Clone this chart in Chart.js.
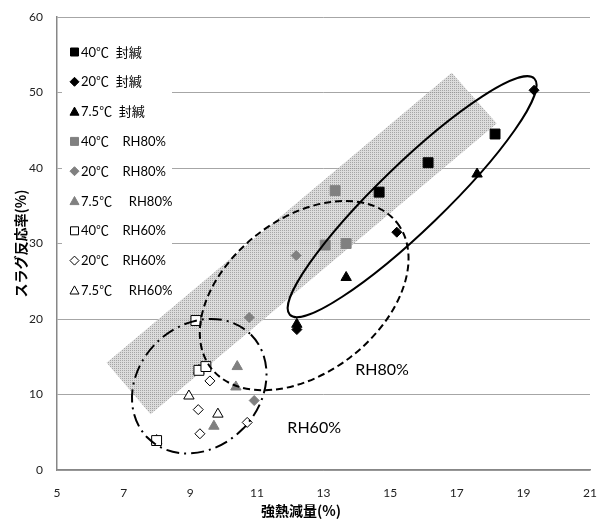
<!DOCTYPE html>
<html>
<head>
<meta charset="utf-8">
<script src="https://cdn.jsdelivr.net/npm/chart.js@4/dist/chart.umd.min.js"></script>
<style>
  html, body { margin: 0; padding: 0; background: #fff; }
  #wrap { width: 600px; height: 521px; }
</style>
</head>
<body>
<div id="wrap"><canvas id="myChart" width="600" height="521"></canvas></div>
<script>
// series labels (legend text)
const seriesLabels = [
    '40℃  封緘', '20℃  封緘', '7.5℃  封緘',
    '40℃    RH80%', '20℃    RH80%', '7.5℃     RH80%',
    '40℃    RH60%', '20℃    RH60%', '7.5℃     RH60%'
];

// 強熱減量(%) / スラグ反応率(%) for each series
const sealed40X = [14.67, 16.14, 18.15];
const sealed40Y = [36.8, 40.7, 44.5];
const sealed20X = [12.2, 15.2, 19.32];
const sealed20Y = [18.6, 31.5, 50.3];
const sealed75X = [12.2, 13.68, 17.61];
const sealed75Y = [19.3, 25.5, 39.2];
const rh80_40X = [13.05, 13.35, 13.68];
const rh80_40Y = [29.8, 37.0, 30.0];
const rh80_20X = [10.77, 10.92, 12.18];
const rh80_20Y = [20.2, 9.2, 28.4];
const rh80_75X = [9.71, 10.37, 10.41];
const rh80_75Y = [5.8, 11.0, 13.7];
const rh60_40X = [7.99, 9.17, 9.26, 9.47];
const rh60_40Y = [3.9, 19.8, 13.2, 13.7];
const rh60_20X = [9.24, 9.29, 9.59, 10.71];
const rh60_20Y = [8.0, 4.8, 11.8, 6.3];
const rh60_75X = [7.99, 8.96, 9.26, 9.83];
const rh60_75Y = [3.9, 9.8, 13.2, 7.4];

// shaded band corners (data units)
const bandX = [6.49, 7.81, 18.2, 16.85];
const bandY = [14.2, 7.4, 45.9, 52.6];

// area labels
const areaLabels = ['RH80%', 'RH60%'];
const areaLabelX = [14.76, 12.72];
const areaLabelY = [13.2, 5.6];

const FONT = 'Lato, "Noto Sans CJK JP", sans-serif';
const JP_FONT = '"Noto Sans CJK JP", sans-serif';

function toPoints(xs, ys) {
    return xs.map((x, i) => ({x, y: ys[i]}));
}

const seriesData = [
    toPoints(sealed40X, sealed40Y), toPoints(sealed20X, sealed20Y), toPoints(sealed75X, sealed75Y),
    toPoints(rh80_40X, rh80_40Y), toPoints(rh80_20X, rh80_20Y), toPoints(rh80_75X, rh80_75Y),
    toPoints(rh60_40X, rh60_40Y), toPoints(rh60_20X, rh60_20Y), toPoints(rh60_75X, rh60_75Y)
];

const shapes = ['rect', 'rectRot', 'triangle'];
const sizes = {rect: 7, rectRot: 5, triangle: 6};
const fills = ['#000000', '#808080', '#ffffff'];
const borders = ['#000000', '#808080', '#000000'];

const datasets = seriesData.map((data, i) => {
    const group = Math.floor(i / 3);
    const style = shapes[i % 3];
    return {
        label: seriesLabels[i],
        data,
        pointStyle: style,
        pointRadius: sizes[style],
        pointHoverRadius: sizes[style],
        backgroundColor: fills[group],
        borderColor: borders[group],
        borderWidth: 1,
        showLine: false
    };
});

// ellipses: center in data units, radii in px, rotation in degrees
const ellipses = [
    {cx: 15.66, cy: 36.2, rx: 170, ry: 33, rot: -44, dash: []},
    {cx: 12.42, cy: 23.1, rx: 118, ry: 77, rot: -38, dash: [7, 4]},
    {cx: 9.27, cy: 11.1, rx: 73, ry: 61, rot: -45, dash: [13, 5, 2, 5]}
];

function makePattern(ctx) {
    const pc = document.createElement('canvas');
    pc.width = 2; pc.height = 2;
    const p = pc.getContext('2d');
    p.fillStyle = '#d6d6d6';
    p.fillRect(0, 0, 2, 2);
    p.fillStyle = '#969696';
    p.fillRect(0, 0, 1, 1);
    return ctx.createPattern(pc, 'repeat');
}

const bandPlugin = {
    id: 'band',
    beforeDatasetsDraw(chart) {
        const {ctx, scales: {x, y}, chartArea} = chart;
        ctx.save();
        ctx.beginPath();
        ctx.rect(chartArea.left, chartArea.top, chartArea.right - chartArea.left, chartArea.bottom - chartArea.top);
        ctx.clip();
        ctx.globalAlpha = 0.85;
        ctx.fillStyle = makePattern(ctx);
        ctx.beginPath();
        bandX.forEach((bx, i) => {
            const px = x.getPixelForValue(bx);
            const py = y.getPixelForValue(bandY[i]);
            if (i === 0) ctx.moveTo(px, py); else ctx.lineTo(px, py);
        });
        ctx.closePath();
        ctx.fill();
        ctx.restore();
    }
};

function drawMarker(ctx, style, cx, cy, r, fill, stroke) {
    ctx.beginPath();
    if (style === 'rect') {
        ctx.rect(cx - r, cy - r, 2 * r, 2 * r);
    } else if (style === 'rectRot') {
        ctx.moveTo(cx - r, cy);
        ctx.lineTo(cx, cy - r);
        ctx.lineTo(cx + r, cy);
        ctx.lineTo(cx, cy + r);
        ctx.closePath();
    } else {
        ctx.moveTo(cx, cy - r);
        ctx.lineTo(cx + r, cy + r * 0.8);
        ctx.lineTo(cx - r, cy + r * 0.8);
        ctx.closePath();
    }
    ctx.fillStyle = fill;
    ctx.fill();
    ctx.strokeStyle = stroke;
    ctx.lineWidth = 1;
    ctx.stroke();
}

const overlayPlugin = {
    id: 'overlay',
    afterDatasetsDraw(chart) {
        const {ctx, scales: {x, y}} = chart;
        ctx.save();

        // ellipses
        ctx.strokeStyle = '#000';
        ctx.lineWidth = 2;
        for (const e of ellipses) {
            ctx.setLineDash(e.dash);
            ctx.beginPath();
            ctx.ellipse(x.getPixelForValue(e.cx), y.getPixelForValue(e.cy), e.rx, e.ry,
                e.rot * Math.PI / 180, 0, Math.PI * 2);
            ctx.stroke();
        }
        ctx.setLineDash([]);

        // area labels
        ctx.fillStyle = '#000';
        ctx.font = '16px ' + FONT;
        ctx.textAlign = 'center';
        ctx.textBaseline = 'middle';
        areaLabels.forEach((t, i) => {
            ctx.fillText(t, x.getPixelForValue(areaLabelX[i]), y.getPixelForValue(areaLabelY[i]));
        });

        // legend inside plot
        ctx.fillStyle = '#fff';
        ctx.fillRect(62, 30, 110, 274);
        ctx.font = '13px ' + FONT;
        ctx.textAlign = 'left';
        chart.data.datasets.forEach((ds, i) => {
            const rowY = 52 + i * 29.8;
            const group = Math.floor(i / 3);
            const style = shapes[i % 3];
            drawMarker(ctx, style, 74.5, rowY, style === 'rect' ? 4 : 4.5,
                fills[group], borders[group]);
            ctx.fillStyle = '#000';
            ctx.fillText(ds.label, 81, rowY + 0.5);
        });

        ctx.restore();
    },
    afterDraw(chart) {
        const {ctx} = chart;
        ctx.save();
        ctx.fillStyle = '#000';
        ctx.font = 'bold 14px ' + JP_FONT;
        ctx.textAlign = 'center';
        ctx.textBaseline = 'middle';
        ctx.fillText('強熱減量(%)', 301, 511);
        ctx.restore();
    }
};

const ctx = document.getElementById('myChart');
const myChart = new Chart(ctx, {
    type: 'scatter',
    data: {datasets},
    plugins: [bandPlugin, overlayPlugin],
    options: {
        responsive: false,
        animation: false,
        devicePixelRatio: 1,
        layout: {padding: {top: 17, right: 10, left: 0, bottom: 0}},
        plugins: {
            legend: {display: false},
            tooltip: {enabled: false}
        },
        scales: {
            x: {
                type: 'linear',
                min: 5,
                max: 21,
                ticks: {stepSize: 2, padding: 16, color: '#222', font: {family: FONT, size: 12}},
                grid: {display: false, drawTicks: false},
                border: {display: true, color: '#878787', width: 1.5},
                afterFit(scale) {
                    scale.height = 51;
                    scale.paddingLeft = 0;
                    scale.paddingRight = 0;
                }
            },
            y: {
                min: 0,
                max: 60,
                ticks: {stepSize: 10, padding: 14, color: '#222', font: {family: FONT, size: 12}},
                grid: {color: '#a6a6a6', lineWidth: 1, drawTicks: false},
                border: {display: true, color: '#878787', width: 1.5},
                title: {
                    display: true,
                    text: 'スラグ反応率(%)',
                    color: '#000',
                    font: {family: JP_FONT, size: 14, weight: 'bold'},
                    padding: {top: 12, bottom: 0}
                },
                afterFit(scale) {
                    scale.width = 57;
                    scale.paddingTop = 0;
                    scale.paddingBottom = 0;
                }
            }
        }
    }
});
</script>
</body>
</html>
